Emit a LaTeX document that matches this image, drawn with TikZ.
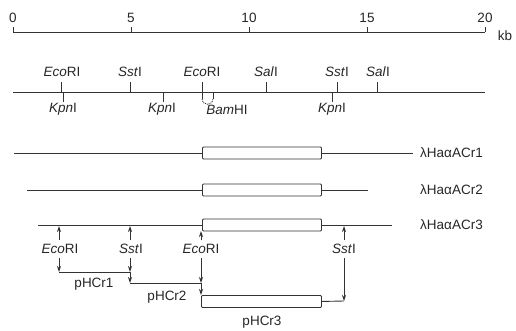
\documentclass[tikz,border=0pt]{standalone}
\usepackage{fontspec}
\setmainfont{Liberation Sans}
\usetikzlibrary{arrows.meta}
\begin{document}
\begin{tikzpicture}[x=1pt,y=-1pt,
  ln/.style={draw=black!80,line width=0.9pt},
  lab/.style={inner sep=1pt,font=\fontsize{13.5}{15}\selectfont,text=black!85},
  arr/.style={ln,-{Stealth[length=6pt,width=4pt]}},
  gene/.style={ln,fill=white,rounded corners=1pt}]
\useasboundingbox (0,0) rectangle (516,330);
% scale
\coordinate (s0) at (13,32);
\coordinate (s20) at (485,32);
\draw[ln] (s0) -- (s20);
\foreach \k/\x in {0/13,5/131,10/249,15/367,20/485}{
  \draw[ln] (\x,32) -- (\x,27);
  \node[lab] (n\k) at (\x,18) {\k};
}
\node[lab] (kb) at (505,36) {kb};
% restriction map
\coordinate (m0) at (13,92);
\coordinate (m1) at (485,92);
\draw[ln] (m0) -- (m1);
\foreach \x in {61,130,266,337,377}{\draw[ln] (\x,92) -- (\x,82);}
\draw[ln] (202,82) -- (202,99);
\draw[ln] (213,92) -- (213,99);
\draw[ln,densely dotted] (202,99) .. controls (203,106) and (212,106) .. (213,99);
\foreach \x in {63,163,332}{\draw[ln] (\x,92) -- (\x,102);}
\node[lab] (t1) at (62,72) {\textit{Eco}RI};
\node[lab] (t2) at (130,72) {\textit{Sst}I};
\node[lab] (t3) at (202,72) {\textit{Eco}RI};
\node[lab] (t4) at (266,72) {\textit{Sal}I};
\node[lab] (t5) at (337,72) {\textit{Sst}I};
\node[lab] (t6) at (378,72) {\textit{Sal}I};
\node[lab] (b1) at (63,109) {\textit{Kpn}I};
\node[lab] (b2) at (162,109) {\textit{Kpn}I};
\node[lab] (b3) at (227,110) {\textit{Bam}HI};
\node[lab] (b4) at (332,109) {\textit{Kpn}I};
% clones
\coordinate (r1a) at (14,153); \coordinate (r1b) at (413,153);
\draw[ln] (r1a) -- (r1b);
\node[gene,minimum width=119pt,minimum height=12pt,anchor=west] (g1) at (202,153) {};
\node[lab,anchor=west] (l1) at (419,153) {λHaαACr1};
\coordinate (r2a) at (27,190); \coordinate (r2b) at (368,190);
\draw[ln] (r2a) -- (r2b);
\node[gene,minimum width=119pt,minimum height=12pt,anchor=west] (g2) at (202,190) {};
\node[lab,anchor=west] (l2) at (419,190) {λHaαACr2};
\coordinate (r3a) at (38,225); \coordinate (r3b) at (392,225);
\draw[ln] (r3a) -- (r3b);
\node[gene,minimum width=119pt,minimum height=12pt,anchor=west] (g3) at (202,225) {};
\node[lab,anchor=west] (l3) at (419,225) {λHaαACr3};
% subclone sites
\node[lab] (e1) at (60,249) {\textit{Eco}RI};
\node[lab] (s1) at (131,249) {\textit{Sst}I};
\node[lab] (e2) at (201,249) {\textit{Eco}RI};
\node[lab] (s2) at (344,249) {\textit{Sst}I};
\coordinate (u1) at (59,226);
\coordinate (u2) at (130,226);
\coordinate (u3) at (201,231);
\coordinate (u4) at (344,226);
\draw[arr] (59,240) -- (u1);
\draw[arr] (130,240) -- (u2);
\draw[arr] (201,240) -- (u3);
\draw[arr] (344,240) -- (u4);
% pHCr1
\coordinate (p1a) at (59,272); \coordinate (p1b) at (130,272);
\draw[ln] (p1a) -- (p1b);
\draw[arr] (59,258) -- (p1a);
\draw[arr] (130,258) -- (p1b);
\node[lab] (pl1) at (94,284) {pHCr1};
% pHCr2
\coordinate (p2a) at (130,283); \coordinate (p2b) at (201,283);
\draw[ln] (p2a) -- (p2b);
\draw[arr] (p1b) -- (p2a);
\draw[arr] (201,258) -- (p2b);
\node[lab] (pl2) at (167,297) {pHCr2};
% pHCr3
\node[gene,minimum width=120pt,minimum height=12pt,anchor=north west] (g4) at (201,295) {};
\coordinate (p3b) at (344,301);
\draw[arr] (p2b) -- (g4.north west);
\draw[ln] (g4.east) -- (p3b);
\draw[arr] (344,258) -- (p3b);
\node[lab] (pl3) at (262,322) {pHCr3};
\end{tikzpicture}
\end{document}
